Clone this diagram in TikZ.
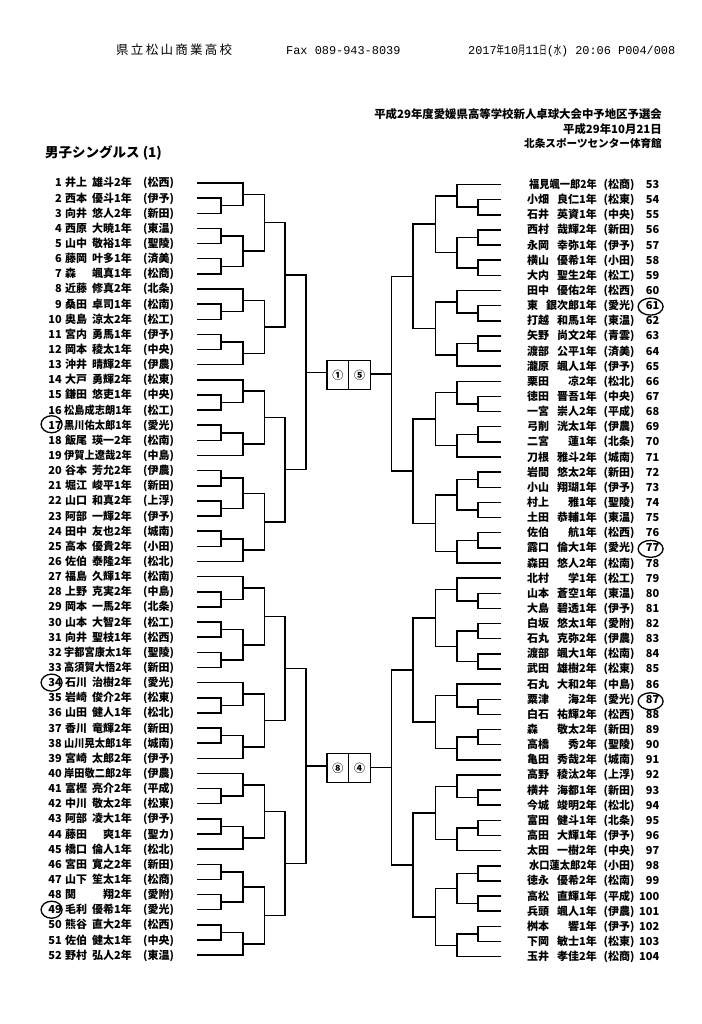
\documentclass[tikz,border=0pt]{standalone}
\usepackage{fontspec}
\usepackage{graphicx}
\setmainfont{Noto Sans CJK JP}
\newfontfamily\monof{Liberation Mono}
\usetikzlibrary{calc,shapes.geometric}
\newcommand\hw[1]{\makebox[0.6em]{\scalebox{0.62}[1]{\normalfont #1}}}
\newcommand\sq[1]{\scalebox{0.93}[1]{#1}}
\tikzset{
  br/.style={line width=1.5pt},
  lbl/.style={inner sep=0pt, font=\bfseries\fontsize{11}{13}\selectfont},
  bx/.style={draw, line width=1.2pt, minimum width=21.75pt, minimum height=29pt, inner sep=0pt, font=\bfseries\fontsize{11}{13}\selectfont},
  circl/.style={draw, ellipse, line width=1.3pt, minimum width=21pt, minimum height=17pt, inner sep=0pt},
  circr/.style={draw, ellipse, line width=1.3pt, minimum width=25pt, minimum height=17pt, inner sep=0pt},
}
\newcommand\lp[4]{%
  \pgfmathsetmacro\yy{183+(#1-1)*15.14}%
  \coordinate (L#1) at (197,\yy);
  \node[lbl,anchor=base east] (Ln#1) at (62,\yy+4) {#1};
  \node[lbl,anchor=base west] (Ls#1) at (65,\yy+4) {#2};
  \node[lbl,anchor=base east] (Lg#1) at (132,\yy+4) {#3};
  \node[lbl,anchor=base west] (Lc#1) at (143,\yy+4) {(#4)};
}
\newcommand\rp[4]{%
  \pgfmathsetmacro\yy{184.5+(#1-53)*15.14}%
  \coordinate (R#1) at (501,\yy);
  \node[lbl,anchor=base west] (Rs#1) at (527,\yy+4) {#2};
  \node[lbl,anchor=base east] (Rg#1) at (597,\yy+4) {#3};
  \node[lbl,anchor=base west] (Rc#1) at (603.5,\yy+4) {(#4)};
  \node[lbl,anchor=base east] (Rn#1) at (659.5,\yy+4) {#1};
}
\newcommand\mt[4]{%
  \edef\mtN{#1}\edef\mtA{#2}\edef\mtB{#3}\edef\mtX{#4}%
  \draw[br] (\mtA) -- (\mtA -| \mtX) -- (\mtB -| \mtX) -- (\mtB);
  \coordinate (\mtN) at ($(\mtA -| \mtX)!0.5!(\mtB -| \mtX)$);
}
\newcommand\qq[1]{\the\numexpr\qb+#1-1\relax}
\newcommand\qtr[2]{%
  \def\qs{#1}\def\qb{#2}\def\qp{#1#2}%
  \mt{\qp p23}{\qs\qq{2}}{\qs\qq{3}}{\qs r1}
  \mt{\qp p45}{\qs\qq{4}}{\qs\qq{5}}{\qs r1}
  \mt{\qp p67}{\qs\qq{6}}{\qs\qq{7}}{\qs r1}
  \mt{\qp p910}{\qs\qq{9}}{\qs\qq{10}}{\qs r1}
  \mt{\qp p1112}{\qs\qq{11}}{\qs\qq{12}}{\qs r1}
  \mt{\qp p1516}{\qs\qq{15}}{\qs\qq{16}}{\qs r1}
  \mt{\qp p1718}{\qs\qq{17}}{\qs\qq{18}}{\qs r1}
  \mt{\qp p2021}{\qs\qq{20}}{\qs\qq{21}}{\qs r1}
  \mt{\qp p2223}{\qs\qq{22}}{\qs\qq{23}}{\qs r1}
  \mt{\qp p2425}{\qs\qq{24}}{\qs\qq{25}}{\qs r1}
  \mt{\qp A}{\qs\qq{1}}{\qp p23}{\qs r2}
  \mt{\qp B}{\qp p45}{\qp p67}{\qs r2}
  \mt{\qp C}{\qs\qq{8}}{\qp p910}{\qs r2}
  \mt{\qp D}{\qp p1112}{\qs\qq{13}}{\qs r2}
  \mt{\qp E}{\qs\qq{14}}{\qp p1516}{\qs r2}
  \mt{\qp F}{\qp p1718}{\qs\qq{19}}{\qs r2}
  \mt{\qp G}{\qp p2021}{\qp p2223}{\qs r2}
  \mt{\qp H}{\qp p2425}{\qs\qq{26}}{\qs r2}
  \mt{\qp AB}{\qp A}{\qp B}{\qs r3}
  \mt{\qp CD}{\qp C}{\qp D}{\qs r3}
  \mt{\qp EF}{\qp E}{\qp F}{\qs r3}
  \mt{\qp GH}{\qp G}{\qp H}{\qs r3}
  \mt{\qp T}{\qp AB}{\qp CD}{\qs r4}
  \mt{\qp U}{\qp EF}{\qp GH}{\qs r4}
  \mt{\qp fin}{\qp T}{\qp U}{\qs r5}
}
\begin{document}
\begin{tikzpicture}[x=1pt,y=-1pt]
\fill[white] (0,0) rectangle (701,1024);
\useasboundingbox (0,0) rectangle (701,1024);
% header
\node[anchor=base west, inner sep=0pt, font=\fontsize{12.5}{14}\selectfont] (hschool) at (116,55)
  {\makebox[116pt][s]{県\hfil 立\hfil 松\hfil 山\hfil 商\hfil 業\hfil 高\hfil 校}};
\node[anchor=base west, inner sep=0pt, font=\monof\fontsize{11.9}{14}\selectfont] (hfax) at (286,55) {Fax 089-943-8039};
\node[anchor=base west, inner sep=0pt, font=\monof\fontsize{11.9}{14}\selectfont] (hdate) at (468,55)
  {2017\hw{年}10\hw{月}11\hw{日}(\hw{水}) 20:06 P004/008};
\node[anchor=base east, inner sep=0pt, font=\bfseries\fontsize{11.4}{13}\selectfont] (t1) at (662,118.6)
  {平成29年度愛媛県高等学校新人卓球大会中予地区予選会};
\node[anchor=base east, inner sep=0pt, font=\bfseries\fontsize{11.4}{13}\selectfont] (t2) at (662,133.6)
  {平成29年10月21日};
\node[anchor=base east, inner sep=0pt, font=\bfseries\fontsize{10.6}{13}\selectfont] (t3) at (662,147.6)
  {北条スポーツセンター体育館};
\node[anchor=base west, inner sep=0pt, font=\bfseries\fontsize{13.5}{15}\selectfont] (title) at (45,158)
  {男子シングルス (1)};
% round x levels
\coordinate (Lr1) at (221,0);   \coordinate (Lr2) at (243,0);   \coordinate (Lr3) at (264.5,0);
\coordinate (Lr4) at (285,0);   \coordinate (Lr5) at (306,0);
\coordinate (Rr1) at (478,0);   \coordinate (Rr2) at (457,0);   \coordinate (Rr3) at (435.5,0);
\coordinate (Rr4) at (413,0);   \coordinate (Rr5) at (391.5,0);
% left players
\lp{1}{井上}{雄斗2年}{松西}
\lp{2}{西本}{優斗1年}{伊予}
\lp{3}{向井}{悠人2年}{新田}
\lp{4}{西原}{大暁1年}{東温}
\lp{5}{山中}{敬裕1年}{聖陵}
\lp{6}{藤岡}{叶多1年}{済美}
\lp{7}{森}{颯真1年}{松商}
\lp{8}{近藤}{修真2年}{北条}
\lp{9}{桑田}{卓司1年}{松南}
\lp{10}{奥島}{涼太2年}{松工}
\lp{11}{宮内}{勇馬1年}{伊予}
\lp{12}{岡本}{稜太1年}{中央}
\lp{13}{沖井}{晴輝2年}{伊農}
\lp{14}{大戸}{勇輝2年}{松東}
\lp{15}{鎌田}{悠吏1年}{中央}
\lp{16}{}{\sq{松島成志朗1年}}{松工}
\lp{17}{}{\sq{黒川佑太郎1年}}{愛光}
\lp{18}{飯尾}{瑛一2年}{松南}
\lp{19}{}{\sq{伊賀上遼哉2年}}{中島}
\lp{20}{谷本}{芳允2年}{伊農}
\lp{21}{堀江}{峻平1年}{新田}
\lp{22}{山口}{和真2年}{上浮}
\lp{23}{阿部}{一輝2年}{伊予}
\lp{24}{田中}{友也2年}{城南}
\lp{25}{高本}{優貴2年}{小田}
\lp{26}{佐伯}{泰隆2年}{松北}
\lp{27}{福島}{久輝1年}{松南}
\lp{28}{上野}{克実2年}{中島}
\lp{29}{岡本}{一馬2年}{北条}
\lp{30}{山本}{大智2年}{松工}
\lp{31}{向井}{聖枝1年}{松西}
\lp{32}{}{\sq{宇都宮康太1年}}{聖陵}
\lp{33}{}{\sq{高須賀大悟2年}}{新田}
\lp{34}{石川}{治樹2年}{愛光}
\lp{35}{岩崎}{俊介2年}{松東}
\lp{36}{山田}{健人1年}{松北}
\lp{37}{香川}{竜輝2年}{新田}
\lp{38}{}{\sq{山川晃太郎1年}}{城南}
\lp{39}{宮崎}{太郎2年}{伊予}
\lp{40}{}{\sq{岸田敬二郎2年}}{伊農}
\lp{41}{富樫}{亮介2年}{平成}
\lp{42}{中川}{敬太2年}{松東}
\lp{43}{阿部}{凌大1年}{伊予}
\lp{44}{藤田}{爽1年}{聖カ}
\lp{45}{橋口}{倫人1年}{松北}
\lp{46}{宮田}{寛之2年}{新田}
\lp{47}{山下}{笙太1年}{松商}
\lp{48}{関}{翔2年}{愛附}
\lp{49}{毛利}{優希1年}{愛光}
\lp{50}{熊谷}{直大2年}{松西}
\lp{51}{佐伯}{健太1年}{中央}
\lp{52}{野村}{弘人2年}{東温}
% right players
\rp{53}{}{\sq{福見颯一郎2年}}{松商}
\rp{54}{小畑}{良仁1年}{松東}
\rp{55}{石井}{英資1年}{中央}
\rp{56}{西村}{哉輝2年}{新田}
\rp{57}{永岡}{幸弥1年}{伊予}
\rp{58}{横山}{優希1年}{小田}
\rp{59}{大内}{聖生2年}{松工}
\rp{60}{田中}{優佑2年}{松西}
\rp{61}{東}{銀次郎1年}{愛光}
\rp{62}{打越}{和馬1年}{東温}
\rp{63}{矢野}{尚文2年}{青雲}
\rp{64}{渡部}{公平1年}{済美}
\rp{65}{瀧原}{颯人1年}{伊予}
\rp{66}{栗田}{凉2年}{松北}
\rp{67}{徳田}{晋吾1年}{中央}
\rp{68}{一宮}{崇人2年}{平成}
\rp{69}{弓削}{洸太1年}{伊農}
\rp{70}{二宮}{蓮1年}{北条}
\rp{71}{刀根}{雅斗2年}{城南}
\rp{72}{岩間}{悠太2年}{新田}
\rp{73}{小山}{翔瑚1年}{伊予}
\rp{74}{村上}{雅1年}{聖陵}
\rp{75}{土田}{恭輔1年}{東温}
\rp{76}{佐伯}{航1年}{松西}
\rp{77}{露口}{倫大1年}{愛光}
\rp{78}{森田}{悠人2年}{松南}
\rp{79}{北村}{学1年}{松工}
\rp{80}{山本}{蒼空1年}{東温}
\rp{81}{大島}{碧透1年}{伊予}
\rp{82}{白坂}{悠太1年}{愛附}
\rp{83}{石丸}{克弥2年}{伊農}
\rp{84}{渡部}{颯大1年}{松南}
\rp{85}{武田}{雄樹2年}{松東}
\rp{86}{石丸}{大和2年}{中島}
\rp{87}{粟津}{海2年}{愛光}
\rp{88}{白石}{祐輝2年}{松西}
\rp{89}{森}{敬太2年}{新田}
\rp{90}{高橋}{秀2年}{聖陵}
\rp{91}{亀田}{秀哉2年}{城南}
\rp{92}{高野}{稜汰2年}{上浮}
\rp{93}{横井}{海都1年}{新田}
\rp{94}{今城}{竣明2年}{松北}
\rp{95}{富田}{健斗1年}{北条}
\rp{96}{高田}{大輝1年}{伊予}
\rp{97}{太田}{一樹2年}{中央}
\rp{98}{}{\sq{水口蓮太郎2年}}{小田}
\rp{99}{徳永}{優希2年}{松南}
\rp{100}{高松}{直輝1年}{平成}
\rp{101}{兵頭}{颯人1年}{伊農}
\rp{102}{桝本}{響1年}{伊予}
\rp{103}{下岡}{敏士1年}{松東}
\rp{104}{玉井}{孝佳2年}{松商}
% brackets
\qtr{L}{1}
\qtr{L}{27}
\qtr{R}{53}
\qtr{R}{79}
% center boxes
\node[bx] (b1) at (337.9,375) {①};
\node[bx] (b5) at (359.6,375) {⑤};
\node[bx] (b8) at (337.9,768) {⑧};
\node[bx] (b4) at (359.6,768) {④};
\draw[br] (L1fin) -- (L1fin -| b1.west);
\draw[br] (R53fin) -- (R53fin -| b5.east);
\draw[br] (L27fin) -- (L27fin -| b8.west);
\draw[br] (R79fin) -- (R79fin -| b4.east);
% hand-drawn circles
\node[circl] (c17) at ($(Ln17.center)+(-3.5,-1)$) {};
\node[circl] (c34) at ($(Ln34.center)+(-3.5,0)$) {};
\node[circl] (c49) at ($(Ln49.center)+(-3.5,0)$) {};
\node[circr] (c61) at ($(Rn61.center)+(-2,1)$) {};
\node[circr] (c77) at ($(Rn77.center)+(-2,1)$) {};
\node[circr] (c87) at ($(Rn87.center)+(-2,2)$) {};
\end{tikzpicture}
\end{document}
